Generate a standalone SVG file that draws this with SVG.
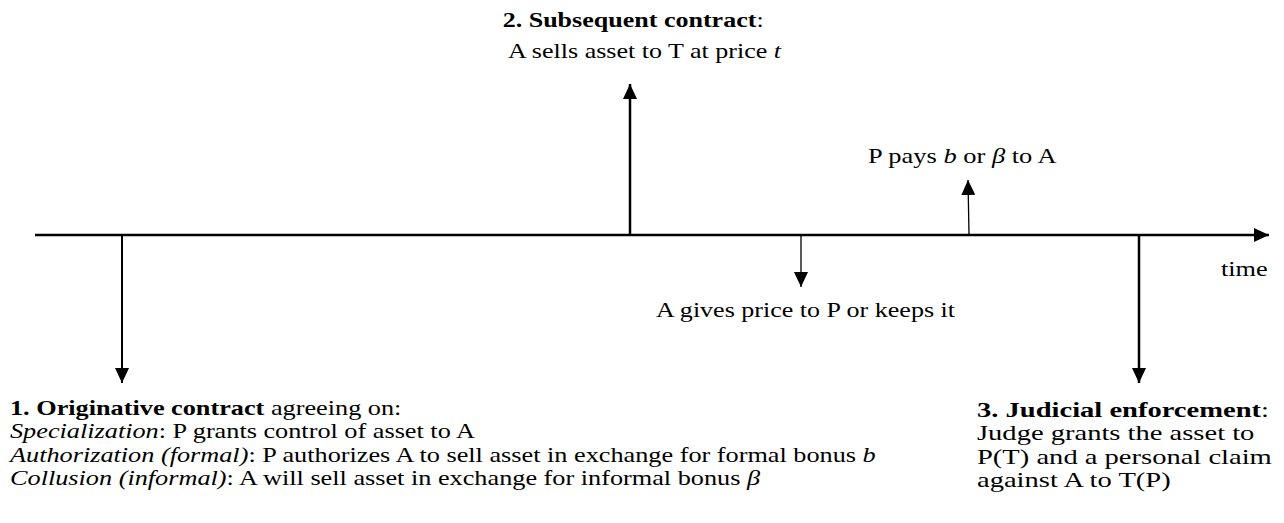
<svg xmlns="http://www.w3.org/2000/svg" width="1284" height="523" viewBox="0 0 1284 523">
<style>
text{font-family:"Liberation Serif","Times New Roman",serif;font-size:21px;fill:#000}
.b{font-weight:bold}
.i{font-style:italic}
.e{text-anchor:end}
.ln{stroke:#000;fill:none}
</style>
<defs>
<marker id="ah" markerUnits="userSpaceOnUse" markerWidth="16" markerHeight="16" refX="15" refY="7" orient="auto"><path d="M0,0 L15,7 L0,14 Z" fill="#000"/></marker>
</defs>
<rect width="1284" height="523" fill="#fff"/>
<g id="connectors">
<line class="ln" x1="35" y1="235" x2="1269" y2="235" stroke-width="2.5" marker-end="url(#ah)"/>
<line class="ln" x1="122" y1="235" x2="122" y2="383" stroke-width="2" marker-end="url(#ah)"/>
<line class="ln" x1="630" y1="235" x2="630" y2="84" stroke-width="2.5" marker-end="url(#ah)"/>
<line class="ln" x1="801" y1="235" x2="801" y2="287" stroke-width="1.3" marker-end="url(#ah)"/>
<line class="ln" x1="969" y1="234" x2="968" y2="180" stroke-width="1.3" marker-end="url(#ah)"/>
<line class="ln" x1="1139" y1="235" x2="1139" y2="383" stroke-width="2.5" marker-end="url(#ah)"/>
</g>
<g id="node1" transform="translate(10,0) scale(1.25,1)">
<text x="0" y="415"><tspan class="b">1. Originative contract</tspan> agreeing on:</text>
<text x="0" y="438.5"><tspan class="i">Specialization</tspan>: P grants control of asset to A</text>
<text x="0" y="462"><tspan class="i">Authorization (formal)</tspan>: P authorizes A to sell asset in exchange for formal bonus <tspan class="i">b</tspan></text>
<text x="0" y="485.5"><tspan class="i">Collusion (informal)</tspan>: A will sell asset in exchange for informal bonus <tspan class="i">β</tspan></text>
</g>
<g id="node2" transform="translate(781,0) scale(1.24,1)">
<text class="e" x="-14" y="27"><tspan class="b">2. Subsequent contract</tspan>:</text>
<text class="e" x="0" y="58">A sells asset to T at price <tspan class="i">t</tspan></text>
</g>
<g id="node-gives" transform="translate(955,0) scale(1.24,1)">
<text class="e" x="0" y="317">A gives price to P or keeps it</text>
</g>
<g id="node-pays" transform="translate(868,0) scale(1.26,1)">
<text x="0" y="163">P pays <tspan class="i">b</tspan> or <tspan class="i">β</tspan> to A</text>
</g>
<g id="node-time" transform="translate(1221,0) scale(1.25,1)">
<text x="0" y="276">time</text>
</g>
<g id="node3" transform="translate(977,0) scale(1.36,1)">
<text x="0" y="417"><tspan class="b">3. Judicial enforcement</tspan>:</text>
<text x="0" y="440.5">Judge grants the asset to</text>
<text x="0" y="464">P(T) and a personal claim</text>
<text x="0" y="487.5">against A to T(P)</text>
</g>
</svg>
